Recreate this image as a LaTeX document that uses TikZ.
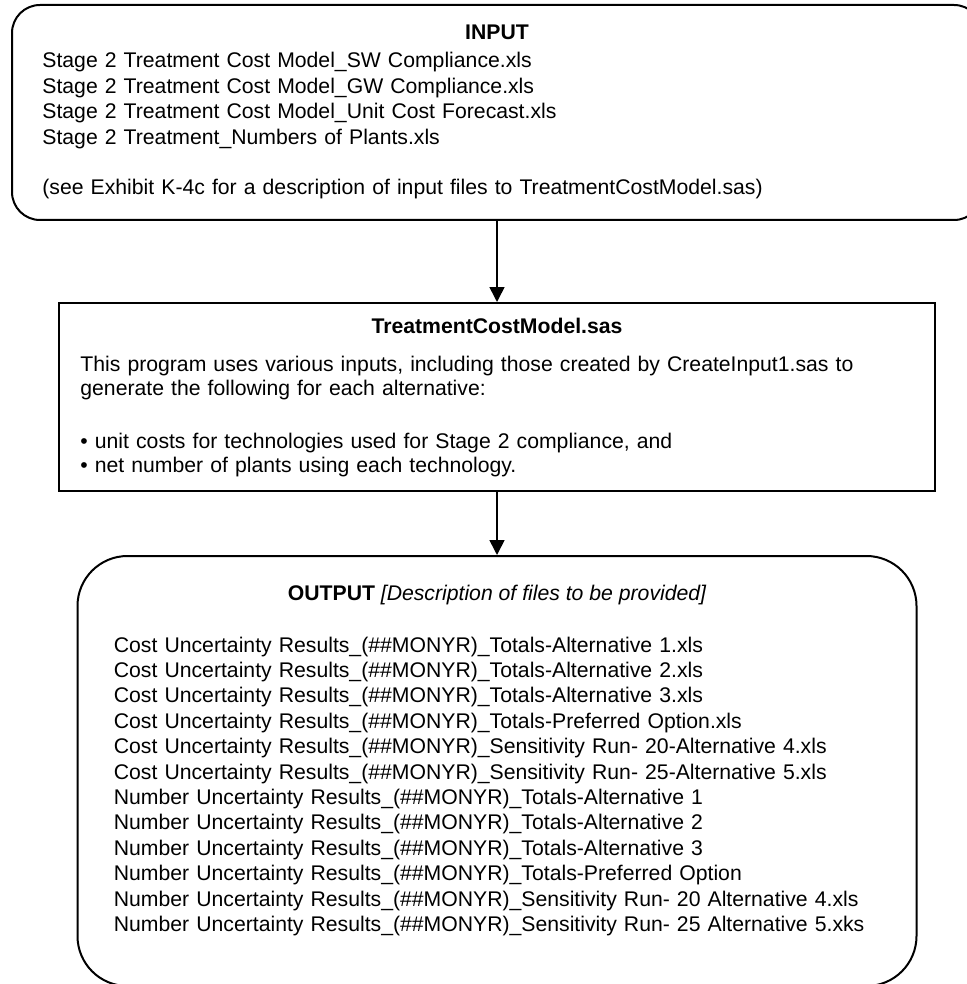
\documentclass[tikz,border=0pt]{standalone}
\usepackage{fontspec}
\setmainfont{Liberation Sans}
\usetikzlibrary{arrows.meta, positioning, calc}

\begin{document}
\begin{tikzpicture}[
    x=0.5pt, y=-0.5pt,
    box/.style={rectangle, draw, line width=1pt, inner sep=0pt},
    arrow/.style={-{Triangle[length=7.5pt, width=7.5pt]}, line width=0.8pt},
    head/.style={font=\fontsize{10.6pt}{12.7pt}\selectfont\bfseries, inner sep=0pt, anchor=base},
    body/.style={font=\fontsize{10.6pt}{12.7pt}\selectfont, inner sep=0pt, anchor=base west, text width=440pt, align=left}
]
    \useasboundingbox (0,0) rectangle (967,984);

    % Boxes
    \node[box, rounded corners=14pt, minimum width=485pt, minimum height=107.5pt] (input) at (497,112.5) {};
    \node[box, minimum width=438pt, minimum height=94pt, below=40.5pt of input] (model) {};
    \node[box, rounded corners=25pt, minimum width=419.5pt, minimum height=215pt, below=31.5pt of model] (output) {};

    % Input text
    \node[head] (inputhead) at ($(input.north)+(0,35.5)$) {INPUT};
    \node[body] (inputtext) at ($(input.north west)+(31,64)$) {Stage 2 Treatment Cost Model\_SW Compliance.xls\\
        Stage 2 Treatment Cost Model\_GW Compliance.xls\\
        Stage 2 Treatment Cost Model\_Unit Cost Forecast.xls\\
        Stage 2 Treatment\_Numbers of Plants.xls\\[12.7pt]
        (see Exhibit K-4c for a description of input files to TreatmentCostModel.sas)};

    % Model text
    \node[head] (modelhead) at ($(model.north)+(0,31)$) {TreatmentCostModel.sas};
    \node[body, font=\fontsize{10.6pt}{12pt}\selectfont] (modeltext) at ($(model.north west)+(22,69)$) {This program uses various inputs, including those created by CreateInput1.sas to\\
        generate the following for each alternative:\\[14.5pt]
        • unit costs for technologies used for Stage 2 compliance, and\\
        • net number of plants using each technology.};

    % Output text
    \node[head] (outputhead) at ($(output.north)+(0,45)$) {OUTPUT {\mdseries\itshape [Description of files to be provided]}};
    \node[body] (outputtext) at ($(output.north west)+(37,97)$) {Cost Uncertainty Results\_(\#\#MONYR)\_Totals-Alternative 1.xls\\
        Cost Uncertainty Results\_(\#\#MONYR)\_Totals-Alternative 2.xls\\
        Cost Uncertainty Results\_(\#\#MONYR)\_Totals-Alternative 3.xls\\
        Cost Uncertainty Results\_(\#\#MONYR)\_Totals-Preferred Option.xls\\
        Cost Uncertainty Results\_(\#\#MONYR)\_Sensitivity Run- 20-Alternative 4.xls\\
        Cost Uncertainty Results\_(\#\#MONYR)\_Sensitivity Run- 25-Alternative 5.xls\\
        Number Uncertainty Results\_(\#\#MONYR)\_Totals-Alternative 1\\
        Number Uncertainty Results\_(\#\#MONYR)\_Totals-Alternative 2\\
        Number Uncertainty Results\_(\#\#MONYR)\_Totals-Alternative 3\\
        Number Uncertainty Results\_(\#\#MONYR)\_Totals-Preferred Option\\
        Number Uncertainty Results\_(\#\#MONYR)\_Sensitivity Run- 20 Alternative 4.xls\\
        Number Uncertainty Results\_(\#\#MONYR)\_Sensitivity Run- 25 Alternative 5.xks};

    % Flow
    \draw[arrow] (input) -- (model);
    \draw[arrow] (model) -- (output);
\end{tikzpicture}
\end{document}
